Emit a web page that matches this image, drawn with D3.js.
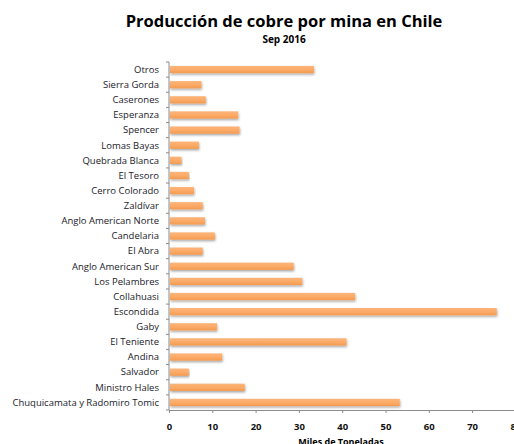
<!DOCTYPE html>
<html>
<head>
<meta charset="utf-8">
<script src="https://cdn.jsdelivr.net/npm/d3@7"></script>
<style>
  body { margin: 0; background: #fff; }
  text { font-family: "Open Sans", sans-serif; }
</style>
</head>
<body>
<div id="chart"></div>
<script>
// Mines (top to bottom) and production, thousand tonnes
const mines = [
  "Otros", "Sierra Gorda", "Caserones", "Esperanza", "Spencer", "Lomas Bayas",
  "Quebrada Blanca", "El Tesoro", "Cerro Colorado", "Zaldívar", "Anglo American Norte",
  "Candelaria", "El Abra", "Anglo American Sur", "Los Pelambres", "Collahuasi",
  "Escondida", "Gaby", "El Teniente", "Andina", "Salvador", "Ministro Hales",
  "Chuquicamata y Radomiro Tomic"
];
const production = [
  33.5, 7.5, 8.5, 16.0, 16.3, 6.9,
  2.9, 4.6, 5.8, 7.8, 8.3,
  10.6, 7.8, 28.8, 30.8, 43.0,
  75.7, 11.1, 41.0, 12.3, 4.6, 17.5,
  53.3
];
const xTicks = [0, 10, 20, 30, 40, 50, 60, 70, 80];

const width = 514;
const height = 444;
const margin = { top: 62, right: 0, bottom: 34, left: 169 };

const svg = d3.select("#chart")
  .append("svg")
  .attr("width", width)
  .attr("height", height);

// soft drop shadow under the bars
const defs = svg.append("defs");
const f = defs.append("filter").attr("id", "shadow")
  .attr("x", "-5%").attr("y", "-50%").attr("width", "110%").attr("height", "220%");
f.append("feDropShadow").attr("dx", 0.5).attr("dy", 1.5)
  .attr("stdDeviation", 0.9).attr("flood-color", "#000").attr("flood-opacity", 0.35);

const grad = defs.append("linearGradient").attr("id", "barFill")
  .attr("x1", 0).attr("y1", 0).attr("x2", 0).attr("y2", 1);
grad.append("stop").attr("offset", "0%").attr("stop-color", "#fbb47a");
grad.append("stop").attr("offset", "50%").attr("stop-color", "#fcab68");
grad.append("stop").attr("offset", "100%").attr("stop-color", "#f39a50");

const x = d3.scaleLinear()
  .domain([0, 80])
  .range([margin.left, margin.left + 80 * 4.33]);

const y = d3.scaleBand()
  .domain(mines)
  .range([margin.top, height - margin.bottom])
  .paddingInner(0.52)
  .paddingOuter(0.26);

// bars
svg.append("g")
  .selectAll("rect")
  .data(mines.map((m, i) => ({ mine: m, value: production[i] })))
  .join("rect")
  .attr("x", x(0) + 1)
  .attr("y", d => y(d.mine))
  .attr("width", d => x(d.value) - x(0) - 1)
  .attr("height", y.bandwidth())
  .attr("fill", "url(#barFill)")
  .attr("filter", "url(#shadow)");

// y axis: ticks between categories
const yAxis = svg.append("g").attr("transform", `translate(${margin.left},0)`);
yAxis.append("line")
  .attr("x1", 0).attr("x2", 0)
  .attr("y1", margin.top).attr("y2", height - margin.bottom)
  .attr("stroke", "#8c8c8c");
const step = y.step();
yAxis.selectAll(".tk")
  .data(d3.range(mines.length + 1))
  .join("line")
  .attr("x1", -3).attr("x2", 0)
  .attr("y1", i => margin.top + i * step)
  .attr("y2", i => margin.top + i * step)
  .attr("stroke", "#8c8c8c");
yAxis.selectAll(".lbl")
  .data(mines)
  .join("text")
  .attr("x", -10)
  .attr("y", d => y(d) + y.bandwidth() / 2)
  .attr("dy", "0.35em")
  .attr("text-anchor", "end")
  .style("font-size", "9.5px")
  .attr("fill", "#1a1a2a")
  .text(d => d);

// x axis
const xAxis = svg.append("g")
  .attr("transform", `translate(0,${height - margin.bottom})`)
  .call(d3.axisBottom(x).tickValues(xTicks).tickSize(3).tickPadding(10).tickFormat(d3.format("d")));
xAxis.select(".domain").attr("stroke", "#8c8c8c");
xAxis.selectAll(".tick line").attr("stroke", "#8c8c8c");
xAxis.selectAll(".tick text")
  .style("font-size", "9.5px")
  .style("font-weight", "bold")
  .attr("fill", "#111");

// axis title
svg.append("text")
  .attr("x", 341)
  .attr("y", 445)
  .attr("text-anchor", "middle")
  .style("font-size", "9px")
  .style("font-weight", "bold")
  .text("Miles de Toneladas");

// titles
svg.append("text")
  .attr("x", 284)
  .attr("y", 27)
  .attr("text-anchor", "middle")
  .style("font-size", "16.5px")
  .style("font-weight", "bold")
  .text("Producción de cobre por mina en Chile");

svg.append("text")
  .attr("x", 284)
  .attr("y", 43)
  .attr("text-anchor", "middle")
  .style("font-size", "10px")
  .style("font-weight", "bold")
  .text("Sep 2016");
</script>
</body>
</html>
